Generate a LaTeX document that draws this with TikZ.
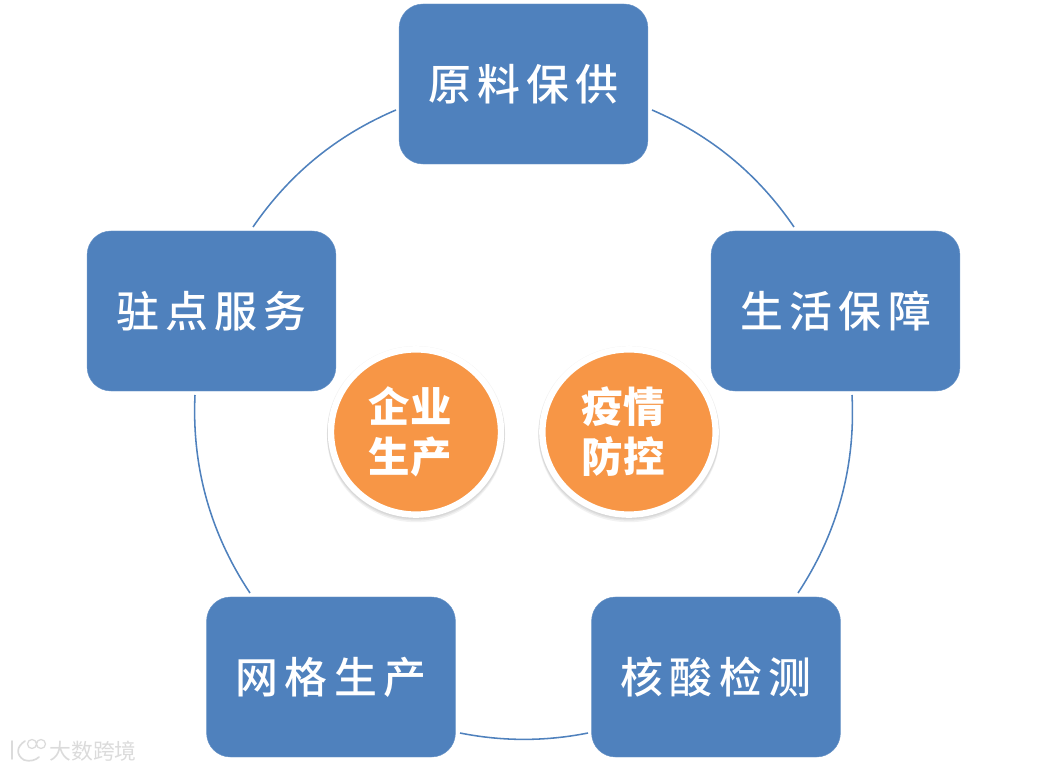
\documentclass[tikz,border=0pt]{standalone}
\usepackage{fontspec}
\newfontfamily\cjk[LetterSpace=15]{Noto Sans CJK SC Medium}
\newfontfamily\cjkb{Noto Sans CJK SC Black}
\newfontfamily\cjkm{Noto Sans CJK SC}
\usetikzlibrary{positioning,shapes.geometric,shadows}
\definecolor{boxblue}{HTML}{4F81BD}
\definecolor{dotorange}{HTML}{F79646}

\begin{document}
\begin{tikzpicture}[x=0.025cm, y=0.025cm,
  box/.style={draw=boxblue!85, fill=boxblue, line width=0.3pt, rounded corners=0.6cm, minimum width=6.22cm, minimum height=4cm, inner sep=0pt, text=white, font=\cjk\fontsize{30.5}{32}\selectfont},
  dot/.style={ellipse, draw=white, fill=dotorange, line width=0.16cm, inner sep=0pt, text=white, align=center, font=\cjkb\fontsize{29.5}{35.5}\selectfont,
    general shadow={shadow yshift=-0.015cm, draw=black, line width=0.2cm, fill=black, opacity=0.05},
    general shadow={shadow yshift=-0.05cm, draw=black, line width=0.2cm, fill=black, opacity=0.06},
    general shadow={shadow yshift=-0.09cm, draw=black, line width=0.2cm, fill=black, opacity=0.05}},
  ring/.style={draw=boxblue, line width=1.1pt}]
\useasboundingbox (0,0) rectangle (1048,771);

\node[box] (supply) at (523.5,687) {原料保供};
\node[box] (living) at (835.5,460) {生活保障};
\node[box] (test) at (716,94) {核酸检测};
\node[box] (grid) at (331,94) {网格生产};
\node[box] (post) at (211.5,460) {驻点服务};

\node[dot, minimum width=4.25cm, minimum height=4.13cm] (firm) at (416,339) {\vspace*{0.15cm}企业\kern0.3cm\\生产\kern0.3cm};
\node[dot, minimum width=4.33cm, minimum height=4.13cm] (epi) at (629,339) {\vspace*{0.15cm}疫情\kern0.3cm\\防控\kern0.3cm};

% ends of the ring pieces, the ring has radius 328 around (523.5,359)
\coordinate (s1) at (652,661);
\coordinate (l1) at (794,544);
\coordinate (l2) at (852,376);
\coordinate (t1) at (798,178);
\coordinate (t2) at (588,38);
\coordinate (g1) at (460,38);
\coordinate (g2) at (250,178);
\coordinate (p1) at (195,376);
\coordinate (p2) at (253,544);
\coordinate (s2) at (396,661);

\draw[ring] (s1) to[bend left=16.25, looseness=0.89] (l1);
\draw[ring] (l2) to[bend left=18.2, looseness=0.89] (t1);
\draw[ring] (t2) to[bend left=11.3, looseness=0.87] (g1);
\draw[ring] (g2) to[bend left=18.2, looseness=0.89] (p1);
\draw[ring] (p2) to[bend left=16.25, looseness=0.89] (s2);

% watermark
\node[text=black!14, font=\cjkm\fontsize{15.5}{16}\selectfont, inner sep=0pt] (mark) at (93,20) {大数跨境};
\draw[black!14, line width=1.2pt, line cap=round] (12,30) -- (12,12);
\draw[black!14, line width=1.2pt, line cap=round] (25,30) .. controls (16,24) and (16,16) .. (24,11) .. controls (30,9) and (36,11) .. (39,14);
\draw[black!14, line width=0.9pt] (32,27) circle (4.5) (41,27) circle (4.5);
\end{tikzpicture}
\end{document}
